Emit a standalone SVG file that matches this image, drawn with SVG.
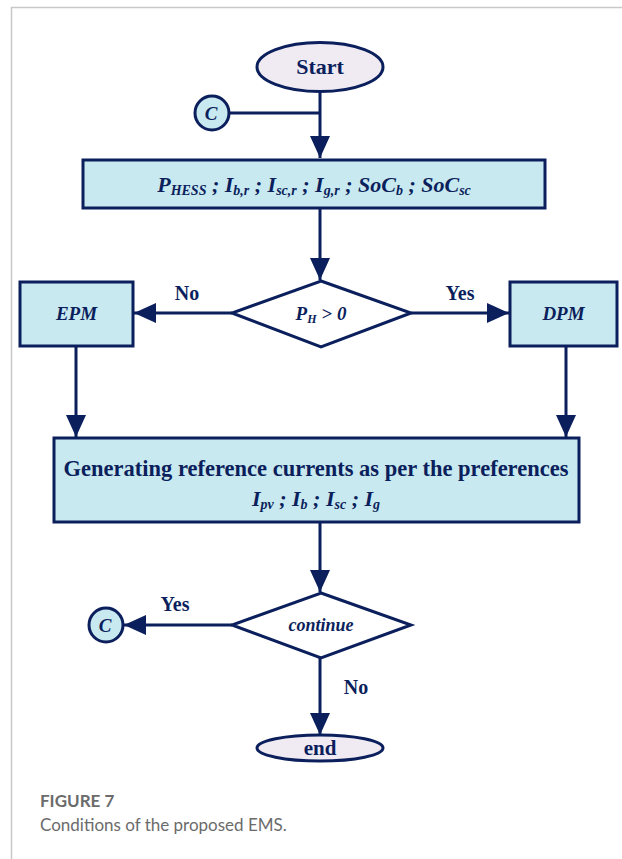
<svg xmlns="http://www.w3.org/2000/svg" width="622" height="859" viewBox="0 0 622 859">
  <style>
    .shape { stroke: #0b1f5c; stroke-width: 3; }
    .box { fill: #c8e9f0; }
    .term { fill: #f0eaf2; }
    .dec { fill: #ffffff; }
    .line { stroke: #0b1f5c; stroke-width: 3; fill: none; }
    .t { font-family: "Liberation Serif", "Times New Roman", serif; fill: #0b1f5c; font-weight: bold; }
    .it { font-style: italic; }
    .cap { font-family: Lato, "Open Sans", sans-serif; fill: #6b6b6b; }
  </style>
  <defs>
    <marker id="head" viewBox="0 0 22 20" refX="22" refY="10" markerWidth="22" markerHeight="20" orient="auto" markerUnits="userSpaceOnUse">
      <path d="M0,0 L22,10 L0,20 z" fill="#0b1f5c"/>
    </marker>
  </defs>

  <!-- page frame -->
  <path d="M11.5,859 V7.5 H622" fill="none" stroke="#c8c8c8" stroke-width="1.5"/>

  <!-- connectors -->
  <g id="connectors">
    <line class="line" x1="320" y1="92" x2="320" y2="158" marker-end="url(#head)"/>
    <line class="line" x1="229" y1="113" x2="320" y2="113"/>
    <line class="line" x1="320" y1="208" x2="320" y2="280" marker-end="url(#head)"/>
    <line class="line" x1="232" y1="313" x2="134" y2="313" marker-end="url(#head)"/>
    <line class="line" x1="411" y1="313" x2="509" y2="313" marker-end="url(#head)"/>
    <line class="line" x1="76" y1="346" x2="76" y2="437" marker-end="url(#head)"/>
    <line class="line" x1="566" y1="346" x2="566" y2="437" marker-end="url(#head)"/>
    <line class="line" x1="320" y1="522" x2="320" y2="592" marker-end="url(#head)"/>
    <line class="line" x1="232" y1="625" x2="124" y2="625" marker-end="url(#head)"/>
    <line class="line" x1="320" y1="658" x2="320" y2="735" marker-end="url(#head)"/>
    <text class="t" x="187" y="300" font-size="20" text-anchor="middle">No</text>
    <text class="t" x="460" y="300" font-size="20" text-anchor="middle">Yes</text>
    <text class="t" x="175" y="611" font-size="20" text-anchor="middle">Yes</text>
    <text class="t" x="356" y="694" font-size="20" text-anchor="middle">No</text>
  </g>

  <g id="start">
    <ellipse class="shape term" cx="320" cy="67" rx="63" ry="24.5"/>
    <text class="t" x="320" y="74" font-size="22" text-anchor="middle">Start</text>
  </g>

  <g id="c-top">
    <circle class="shape box" cx="212" cy="113" r="17"/>
    <text class="t it" x="211" y="120" font-size="19" text-anchor="middle">C</text>
  </g>

  <g id="inputs">
    <rect class="shape box" x="83" y="160" width="462" height="48"/>
    <text class="t it" x="314" y="192" font-size="22" text-anchor="middle">P<tspan font-size="14" dy="3">HESS</tspan><tspan dy="-3"> ; I</tspan><tspan font-size="14" dy="3">b,r</tspan><tspan dy="-3"> ; I</tspan><tspan font-size="14" dy="3">sc,r</tspan><tspan dy="-3"> ; I</tspan><tspan font-size="14" dy="3">g,r</tspan><tspan dy="-3">  ; SoC</tspan><tspan font-size="14" dy="3">b</tspan><tspan dy="-3"> ; SoC</tspan><tspan font-size="14" dy="3">sc</tspan></text>
  </g>

  <g id="decision-ph">
    <polygon class="shape dec" points="321,281 411,313 321,347 232,313"/>
    <text class="t it" x="321" y="320" font-size="19" text-anchor="middle">P<tspan font-size="12" dy="3">H</tspan><tspan dy="-3"> &gt; 0</tspan></text>
  </g>

  <g id="epm">
    <rect class="shape box" x="20" y="282" width="113" height="64"/>
    <text class="t it" x="76.5" y="320" font-size="19" text-anchor="middle">EPM</text>
  </g>

  <g id="dpm">
    <rect class="shape box" x="510" y="282" width="107" height="64"/>
    <text class="t it" x="563.5" y="320" font-size="19" text-anchor="middle">DPM</text>
  </g>

  <g id="generate">
    <rect class="shape box" x="54" y="438" width="525" height="84"/>
    <text class="t" x="316" y="476" font-size="22.5" text-anchor="middle">Generating reference currents as per the preferences</text>
    <text class="t it" x="316" y="506" font-size="22" text-anchor="middle">I<tspan font-size="14" dy="3">pv</tspan><tspan dy="-3"> ; I</tspan><tspan font-size="14" dy="3">b</tspan><tspan dy="-3"> ; I</tspan><tspan font-size="14" dy="3">sc</tspan><tspan dy="-3"> ; I</tspan><tspan font-size="14" dy="3">g</tspan></text>
  </g>

  <g id="decision-continue">
    <polygon class="shape dec" points="321,593 411,625 321,658 232,625"/>
    <text class="t it" x="321" y="631" font-size="18" text-anchor="middle">continue</text>
  </g>

  <g id="c-loop">
    <circle class="shape box" cx="106" cy="625" r="17"/>
    <text class="t it" x="105" y="632" font-size="19" text-anchor="middle">C</text>
  </g>

  <g id="end">
    <ellipse class="shape term" cx="320" cy="748" rx="63" ry="13"/>
    <text class="t" x="320" y="755" font-size="21" text-anchor="middle">end</text>
  </g>

  <!-- caption -->
  <text class="cap" x="40" y="807" font-size="17" font-weight="bold">FIGURE 7</text>
  <text class="cap" x="40" y="831" font-size="17">Conditions of the proposed EMS.</text>
</svg>
